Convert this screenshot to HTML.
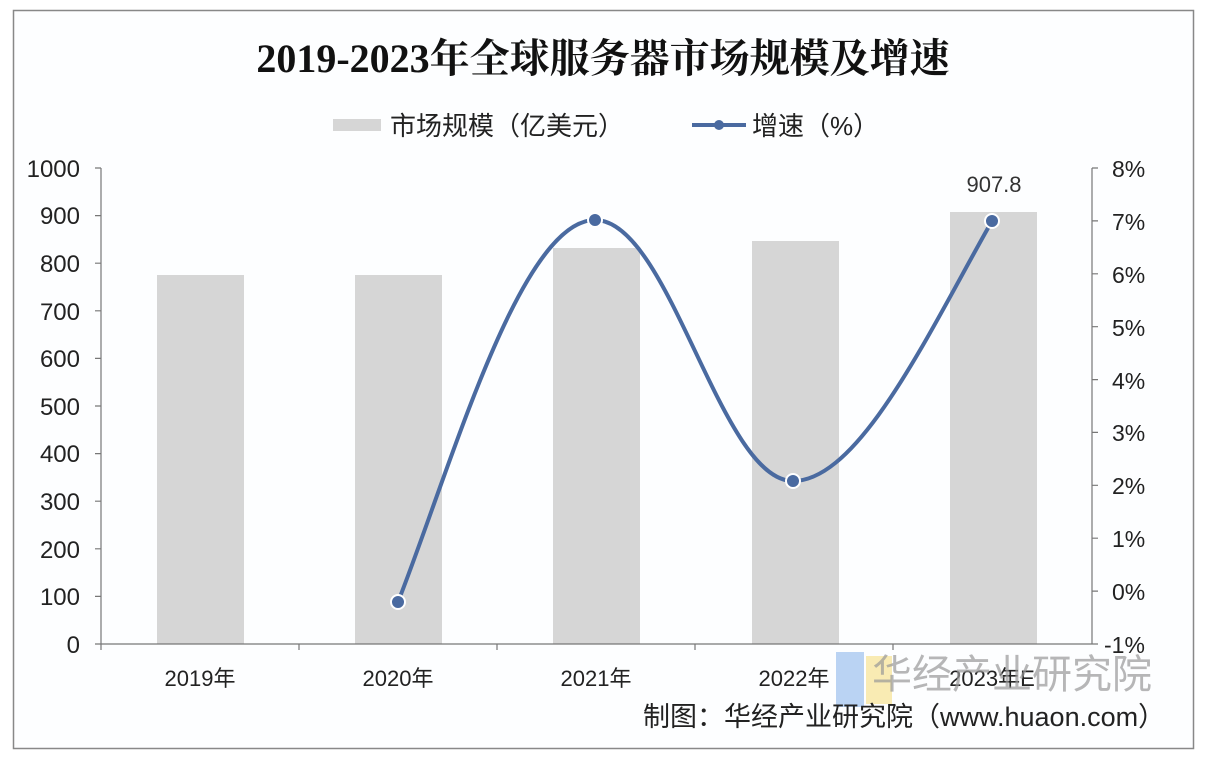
<!DOCTYPE html>
<html><head><meta charset="utf-8"><style>
body{margin:0;background:#fff;}
svg text{font-family:"Liberation Sans","Noto Sans CJK SC",sans-serif;}
</style></head><body>
<svg width="1206" height="762" viewBox="0 0 1206 762">
<rect x="0" y="0" width="1206" height="762" fill="#fff"/>
<rect x="13.5" y="10.5" width="1180" height="738" fill="#fdfeff" stroke="#888" stroke-width="1.5"/>
<text x="603" y="72" text-anchor="middle" font-size="40" font-weight="bold" fill="#111" style="font-family:'Liberation Serif','Noto Serif CJK SC',serif">2019-2023年全球服务器市场规模及增速</text>
<rect x="333" y="119" width="48" height="12" fill="#d6d6d6"/>
<text x="390" y="135" font-size="26" fill="#222">市场规模（亿美元）</text>
<line x1="692" y1="125" x2="746" y2="125" stroke="#4a6aa0" stroke-width="4"/>
<circle cx="719" cy="125" r="5" fill="#4a6aa0"/>
<text x="752" y="135" font-size="26" fill="#222">增速（%）</text>
<g fill="#d6d6d6">
<rect x="157" y="275" width="87" height="369"/>
<rect x="355" y="275" width="87" height="369"/>
<rect x="553" y="248" width="87" height="396"/>
<rect x="752" y="241" width="87" height="403"/>
<rect x="950" y="212" width="87" height="432"/>
</g>
<g stroke="#777" stroke-width="1.2" fill="none">
<line x1="101" y1="168" x2="101" y2="644"/>
<line x1="1092" y1="168" x2="1092" y2="644"/>
<line x1="101" y1="644" x2="1092" y2="644"/>
<path d="M95 168h6M95 215.6h6M95 263.2h6M95 310.8h6M95 358.4h6M95 406h6M95 453.6h6M95 501.2h6M95 548.8h6M95 596.4h6M95 644h6"/>
<path d="M1092 168h6M1092 220.9h6M1092 273.8h6M1092 326.7h6M1092 379.6h6M1092 432.4h6M1092 485.3h6M1092 538.2h6M1092 591.1h6M1092 644h6"/>
<path d="M299 644v6M497 644v6M695 644v6M893 644v6M101 644v6"/>
</g>
<g font-size="24" fill="#222" text-anchor="end">
<text x="80" y="177">1000</text><text x="80" y="224">900</text><text x="80" y="272">800</text><text x="80" y="320">700</text><text x="80" y="367">600</text><text x="80" y="415">500</text><text x="80" y="462">400</text><text x="80" y="510">300</text><text x="80" y="558">200</text><text x="80" y="605">100</text><text x="80" y="653">0</text>
</g>
<g font-size="23" fill="#222" text-anchor="start">
<text x="1112" y="177">8%</text><text x="1112" y="230">7%</text><text x="1112" y="283">6%</text><text x="1112" y="336">5%</text><text x="1112" y="389">4%</text><text x="1112" y="441">3%</text><text x="1112" y="494">2%</text><text x="1112" y="547">1%</text><text x="1112" y="600">0%</text><text x="1104" y="653">-1%</text>
</g>
<g font-size="22" fill="#222" text-anchor="middle">
<text x="200" y="686">2019年</text><text x="398" y="686">2020年</text><text x="596" y="686">2021年</text><text x="794" y="686">2022年</text><text x="992" y="686">2023年E</text>
</g>
<text x="994" y="192" text-anchor="middle" font-size="22" fill="#333">907.8</text>
<path d="M398 602 C450 470,520 220,595 220 C670 220,720 481,793 481 C860 481,930 330,992 221" fill="none" stroke="#4a6aa0" stroke-width="4"/>
<g fill="#4a6aa0" stroke="#fff" stroke-width="2">
<circle cx="398" cy="602" r="7"/><circle cx="595" cy="220" r="7"/><circle cx="793" cy="481" r="7"/><circle cx="992" cy="221" r="7"/>
</g>
<rect x="836" y="652" width="28" height="55" fill="#a9c8f0" opacity="0.8"/>
<rect x="866" y="656" width="26" height="48" fill="#f7e6a0" opacity="0.8"/>
<text x="1012" y="688" text-anchor="middle" font-size="40" fill="#999" opacity="0.7">华经产业研究院</text>
<text x="643" y="726" font-size="27" fill="#222">制图：华经产业研究院（www.huaon.com）</text>
</svg>
</body></html>
